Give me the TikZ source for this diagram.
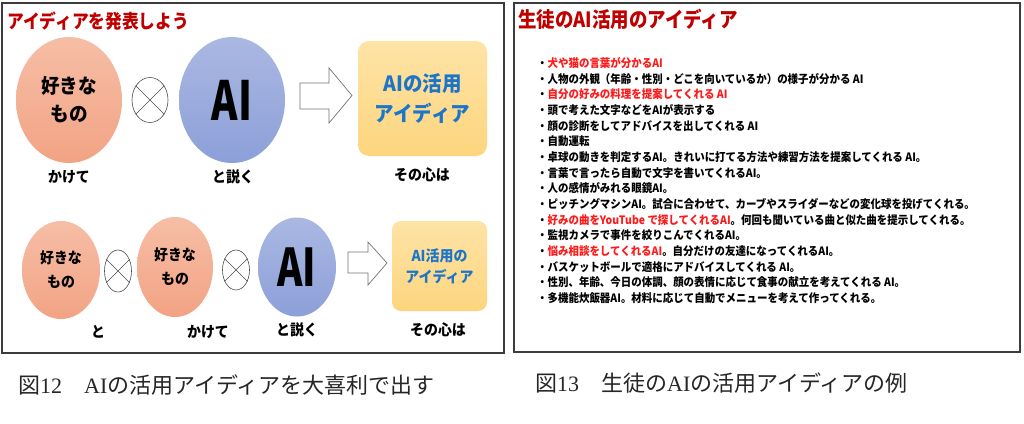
\documentclass[tikz,border=0pt]{standalone}
\usepackage{fontspec}
\usetikzlibrary{shapes.geometric}
\setmainfont{Noto Sans CJK JP}
\newfontfamily\jpT[FakeStretch=0.88]{Noto Sans CJK JP}
\newfontfamily\jpAI[FakeStretch=0.74]{Noto Sans CJK JP}
\newfontfamily\jpM[FakeStretch=0.93]{Noto Sans CJK JP}
\newfontfamily\jpL[FakeStretch=0.91]{Noto Sans CJK JP}
\newfontfamily\jpC{Noto Sans CJK JP}
\newfontfamily\capLat{Liberation Serif}
\definecolor{salmonT}{RGB}{246,190,166}
\definecolor{salmonB}{RGB}{242,163,132}
\definecolor{blueT}{RGB}{170,184,226}
\definecolor{blueB}{RGB}{140,159,216}
\definecolor{yelT}{RGB}{254,227,166}
\definecolor{yelB}{RGB}{253,213,126}
\definecolor{ideaBlue}{RGB}{28,117,200}
\definecolor{titleRed}{RGB}{192,0,0}
\definecolor{listRed}{RGB}{255,26,26}
\definecolor{frameGray}{RGB}{60,60,60}
\begin{document}
\begin{tikzpicture}[x=1pt,y=-1pt,
  panel/.style={draw=frameGray, line width=1.3pt},
  likeel/.style={ellipse, inner sep=0pt, top color=salmonT, bottom color=salmonB, align=center, text=black},
  aiel/.style={ellipse, inner sep=0pt, top color=blueT, bottom color=blueB, text=black},
  idea/.style={rectangle, rounded corners=11pt, inner sep=0pt, top color=yelT, bottom color=yelB, align=center, text=ideaBlue},
  otimesel/.style={ellipse, draw=black!70, line width=0.6pt, inner sep=0pt, fill=white},
  xline/.style={draw=black!70, line width=0.6pt},
  blockarrow/.style={draw=black!55, line width=0.7pt, fill=white},
  lbl/.style={inner sep=0pt, font=\jpM\bfseries\fontsize{15}{18}\selectfont},
  listitem/.style={anchor=west, inner sep=0pt, font=\jpL\bfseries\fontsize{11.5}{13}\selectfont},
  captext/.style={anchor=west, inner sep=0pt, text=black!85, font=\jpC\fontsize{22}{24}\selectfont}
]
\useasboundingbox[fill=white] (0,0) rectangle (1024,423);

% ---------- left panel ----------
\draw[panel] (2,3) rectangle (504,353);
\node[anchor=west, inner sep=0pt, text=titleRed, font=\jpT\bfseries\fontsize{19}{22}\selectfont] (ltitle) at (7,21) {アイディアを発表しよう};

% top row
\node[likeel, minimum width=106pt, minimum height=126pt, font=\jpM\bfseries\fontsize{20}{28}\selectfont] (like1) at (69,100) {好きな\\もの};
\node[otimesel, minimum width=36pt, minimum height=45pt] (ot1) at (150,100) {};
\draw[xline] (ot1.45) -- (ot1.225) (ot1.135) -- (ot1.-45);
\node[aiel, minimum width=106pt, minimum height=126pt, font=\jpAI\bfseries\fontsize{54}{56}\selectfont] (ai1) at (232,100) {AI};
\draw[blockarrow] (300,83) -- (329,83) -- (329,68) -- (352,95.5) -- (329,123) -- (329,109) -- (300,109) -- cycle;
\node[idea, minimum width=129pt, minimum height=115pt, font=\jpM\bfseries\fontsize{21}{30}\selectfont] (idea1) at (422.5,98.5) {AIの活用\\アイディア};
\node[lbl] (k1) at (69,177) {かけて};
\node[lbl] (t1) at (233,177) {と説く};
\node[lbl] (s1) at (422,175) {その心は};

% bottom row
\node[likeel, minimum width=78pt, minimum height=98pt, font=\jpM\bfseries\fontsize{15}{24}\selectfont] (like2) at (61,270) {好きな\\もの};
\node[otimesel, minimum width=27pt, minimum height=42pt] (ot2) at (118,271) {};
\draw[xline] (ot2.45) -- (ot2.225) (ot2.135) -- (ot2.-45);
\node[likeel, minimum width=76pt, minimum height=100pt, font=\jpM\bfseries\fontsize{15}{24}\selectfont] (like3) at (175,267) {好きな\\もの};
\node[otimesel, minimum width=27pt, minimum height=40pt] (ot3) at (236,270) {};
\draw[xline] (ot3.45) -- (ot3.225) (ot3.135) -- (ot3.-45);
\node[aiel, minimum width=78pt, minimum height=99pt, font=\jpAI\bfseries\fontsize{52}{54}\selectfont] (ai2) at (297,267) {AI};
\draw[blockarrow] (348,252) -- (368,252) -- (368,242) -- (387,263) -- (368,285) -- (368,273) -- (348,273) -- cycle;
\node[idea, minimum width=95pt, minimum height=90pt, rounded corners=9pt, font=\jpM\bfseries\fontsize{15}{21}\selectfont] (idea2) at (439.5,266) {AI活用の\\アイディア};
\node[lbl] (to2) at (98,332) {と};
\node[lbl] (k2) at (208,332) {かけて};
\node[lbl] (t2) at (297,330) {と説く};
\node[lbl] (s2) at (438,330) {その心は};

% ---------- right panel ----------
\draw[panel] (514,3) rectangle (1020,352);
\node[anchor=west, inner sep=0pt, text=titleRed, font=\jpT\bfseries\fontsize{21}{24}\selectfont] (rtitle) at (518,19) {生徒のAI活用のアイディア};

\node[listitem] (l1)  at (537,63)    {・\textcolor{listRed}{犬や猫の言葉が分かるAI}};
\node[listitem] (l2)  at (537,78.7)  {・人物の外観（年齢・性別・どこを向いているか）の様子が分かる AI};
\node[listitem] (l3)  at (537,94.3)  {・\textcolor{listRed}{自分の好みの料理を提案してくれる AI}};
\node[listitem] (l4)  at (537,110)   {・頭で考えた文字などをAIが表示する};
\node[listitem] (l5)  at (537,125.7) {・顔の診断をしてアドバイスを出してくれる AI};
\node[listitem] (l6)  at (537,141.3) {・自動運転};
\node[listitem] (l7)  at (537,157)   {・卓球の動きを判定するAI。きれいに打てる方法や練習方法を提案してくれる AI。};
\node[listitem] (l8)  at (537,172.7) {・言葉で言ったら自動で文字を書いてくれるAI。};
\node[listitem] (l9)  at (537,188.3) {・人の感情がみれる眼鏡AI。};
\node[listitem] (l10) at (537,204)   {・ピッチングマシンAI。試合に合わせて、カーブやスライダーなどの変化球を投げてくれる。};
\node[listitem] (l11) at (537,219.7) {・\textcolor{listRed}{好みの曲をYouTube で探してくれるAI}。何回も聞いている曲と似た曲を提示してくれる。};
\node[listitem] (l12) at (537,235.3) {・監視カメラで事件を絞りこんでくれるAI。};
\node[listitem] (l13) at (537,251)   {・\textcolor{listRed}{悩み相談をしてくれるAI}。自分だけの友達になってくれるAI。};
\node[listitem] (l14) at (537,266.7) {・バスケットボールで適格にアドバイスしてくれる AI。};
\node[listitem] (l15) at (537,282.3) {・性別、年齢、今日の体調、顔の表情に応じて食事の献立を考えてくれる AI。};
\node[listitem] (l16) at (537,298)   {・多機能炊飯器AI。材料に応じて自動でメニューを考えて作ってくれる。};

% ---------- captions ----------
\node[captext] (cap12) at (18,385) {図{\capLat 12}　{\capLat AI}の活用アイディアを大喜利で出す};
\node[captext] (cap13) at (535,383) {図{\capLat 13}　生徒の{\capLat AI}の活用アイディアの例};
\end{tikzpicture}
\end{document}
